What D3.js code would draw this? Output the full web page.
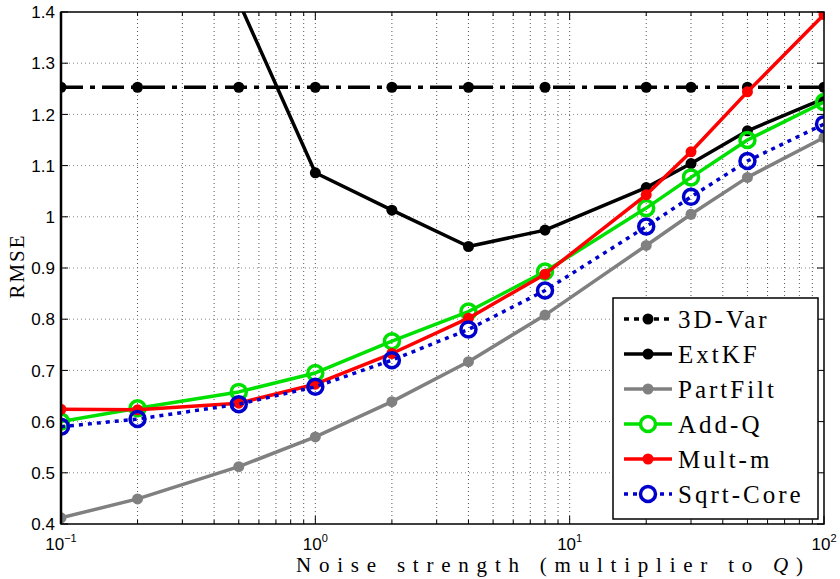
<!DOCTYPE html>
<html>
<head>
<meta charset="utf-8">
<script src="https://cdn.jsdelivr.net/npm/d3@7"></script>
<style>
  body { margin: 0; background: #fff; }
  svg { display: block; }
</style>
</head>
<body>
<script>
const width = 840;
const height = 579;
const margin = { top: 12, right: 16, bottom: 55, left: 61 };

// data
const noise = [0.1, 0.2, 0.5, 1, 2, 4, 8, 20, 30, 50, 100];
const var3d = [1.253, 1.253, 1.253, 1.253, 1.253, 1.253, 1.253, 1.253, 1.253, 1.253, 1.253];
const extkfNoise = [0.5, 1, 2, 4, 8, 20, 30, 50, 100];
const extkf = [1.42, 1.086, 1.013, 0.942, 0.974, 1.057, 1.104, 1.168, 1.231];
const partfilt = [0.412, 0.449, 0.512, 0.570, 0.639, 0.717, 0.808, 0.944, 1.005, 1.077, 1.155];
const addq = [0.600, 0.626, 0.658, 0.695, 0.757, 0.815, 0.893, 1.017, 1.077, 1.150, 1.224];
const multm = [0.624, 0.623, 0.636, 0.673, 0.733, 0.802, 0.888, 1.043, 1.127, 1.244, 1.395];
const sqrtcore = [0.590, 0.605, 0.634, 0.668, 0.720, 0.780, 0.856, 0.981, 1.039, 1.109, 1.181];

const yTicks = [0.4, 0.5, 0.6, 0.7, 0.8, 0.9, 1, 1.1, 1.2, 1.3, 1.4];
const xTickExps = [-1, 0, 1, 2];

const serif = "'Liberation Serif', 'DejaVu Serif', serif";
const sans = "'Liberation Sans', Arial, sans-serif";

const series = [
    { name: "3D-Var", xs: noise, ys: var3d, color: "#000", dash: "22,7,5,7", open: false },
    { name: "ExtKF", xs: extkfNoise, ys: extkf, color: "#000", dash: null, open: false },
    { name: "PartFilt", xs: noise, ys: partfilt, color: "#808080", dash: null, open: false },
    { name: "Add-Q", xs: noise, ys: addq, color: "#00e000", dash: null, open: true },
    { name: "Mult-m", xs: noise, ys: multm, color: "#ff0000", dash: null, open: false },
    { name: "Sqrt-Core", xs: noise, ys: sqrtcore, color: "#0000cc", dash: "4,5", open: true }
];

let svg = d3.select("body")
    .append("svg")
    .attr("width", width)
    .attr("height", height);

let xScale = d3.scaleLog()
    .domain([0.1, 100])
    .range([margin.left, width - margin.right]);

let yScale = d3.scaleLinear()
    .domain([0.4, 1.4])
    .range([height - margin.bottom, margin.top]);

let x0 = margin.left, x1 = width - margin.right;
let y0 = height - margin.bottom, y1 = margin.top;

// grid
let minorX = [];
for (let e = -1; e < 2; e++) {
    for (let m = 1; m < 10; m++) minorX.push(m * Math.pow(10, e));
}
minorX.push(100);

let grid = svg.append("g").attr("id", "grid");
grid.selectAll("line.vx")
    .data(minorX.filter(d => d > 0.1 && d < 100))
    .join("line")
    .attr("x1", d => xScale(d)).attr("x2", d => xScale(d))
    .attr("y1", y0).attr("y2", y1)
    .attr("stroke", "#555")
    .attr("stroke-width", 1)
    .attr("stroke-dasharray", "1,3");

grid.selectAll("line.hy")
    .data(yTicks.filter(d => d > 0.4 && d < 1.4))
    .join("line")
    .attr("x1", x0).attr("x2", x1)
    .attr("y1", d => yScale(d)).attr("y2", d => yScale(d))
    .attr("stroke", "#888")
    .attr("stroke-width", 1)
    .attr("stroke-dasharray", "1,3");

// box ticks (inward)
let ticks = svg.append("g").attr("id", "ticks").attr("stroke", "#000").attr("stroke-width", 1);
minorX.forEach(d => {
    let major = Math.abs(Math.log10(d) - Math.round(Math.log10(d))) < 1e-9;
    let len = major ? 8 : 4;
    ticks.append("line").attr("x1", xScale(d)).attr("x2", xScale(d)).attr("y1", y0).attr("y2", y0 - len);
    ticks.append("line").attr("x1", xScale(d)).attr("x2", xScale(d)).attr("y1", y1).attr("y2", y1 + len);
});
yTicks.forEach(d => {
    ticks.append("line").attr("x1", x0).attr("x2", x0 + 7).attr("y1", yScale(d)).attr("y2", yScale(d));
    ticks.append("line").attr("x1", x1).attr("x2", x1 - 7).attr("y1", yScale(d)).attr("y2", yScale(d));
});

// clip for lines
svg.append("clipPath").attr("id", "plotclip")
    .append("rect")
    .attr("x", x0).attr("y", y1)
    .attr("width", x1 - x0).attr("height", y0 - y1);

let line = d3.line()
    .x(d => xScale(d[0]))
    .y(d => yScale(d[1]));

let plot = svg.append("g").attr("clip-path", "url(#plotclip)");

series.forEach(s => {
    let pts = s.xs.map((x, i) => [x, s.ys[i]]);
    let g = plot.append("g");
    g.append("path")
        .datum(pts)
        .attr("d", line)
        .attr("fill", "none")
        .attr("stroke", s.color)
        .attr("stroke-width", 3.5)
        .attr("stroke-linejoin", "round")
        .attr("stroke-dasharray", s.dash);

    g.selectAll("circle")
        .data(pts.filter(d => d[1] <= 1.4))
        .join("circle")
        .attr("cx", d => xScale(d[0]))
        .attr("cy", d => yScale(d[1]))
        .attr("r", s.open ? 7.5 : 5.5)
        .attr("fill", s.open ? "none" : s.color)
        .attr("stroke", s.open ? s.color : "none")
        .attr("stroke-width", 3.5);
});

// axes box
svg.append("rect")
    .attr("x", x0).attr("y", y1)
    .attr("width", x1 - x0).attr("height", y0 - y1)
    .attr("fill", "none")
    .attr("stroke", "#000")
    .attr("stroke-width", 1.5);
svg.append("line")
    .attr("x1", x0).attr("x2", x0)
    .attr("y1", y1).attr("y2", y0)
    .attr("stroke", "#000")
    .attr("stroke-width", 2.5);

// tick labels
svg.append("g")
    .selectAll("text")
    .data(yTicks)
    .join("text")
    .attr("x", x0 - 6)
    .attr("y", d => yScale(d))
    .attr("dy", "0.36em")
    .attr("text-anchor", "end")
    .attr("font-family", sans)
    .attr("font-size", 17)
    .text(d => d3.format("~g")(d));

let xl = svg.append("g")
    .selectAll("text")
    .data(xTickExps)
    .join("text")
    .attr("x", d => xScale(Math.pow(10, d)))
    .attr("y", y0 + 26)
    .attr("text-anchor", "middle")
    .attr("font-family", sans)
    .attr("font-size", 17);
xl.append("tspan").text("10");
xl.append("tspan")
    .attr("dy", -8)
    .attr("font-size", 11)
    .text(d => d < 0 ? "\u2212" + Math.abs(d) : d);

// axis titles
let xt = svg.append("text")
    .attr("x", 296)
    .attr("y", 572)
    .attr("font-family", serif)
    .attr("font-size", 21)
    .attr("textLength", 507)
    .attr("lengthAdjust", "spacing");
xt.append("tspan").text("Noise strength (multiplier to ");
xt.append("tspan").attr("font-style", "italic").text("Q");
xt.append("tspan").text(")");

svg.append("text")
    .attr("transform", `translate(24, 266) rotate(-90)`)
    .attr("text-anchor", "middle")
    .attr("font-family", serif)
    .attr("font-size", 21)
    .attr("letter-spacing", 2)
    .text("RMSE");

// legend
let legend = svg.append("g").attr("id", "legend");
legend.append("rect")
    .attr("x", 613).attr("y", 298)
    .attr("width", 205).attr("height", 221)
    .attr("fill", "#fff")
    .attr("stroke", "#000")
    .attr("stroke-width", 1.5);

let rowY = d3.scaleLinear().domain([0, 5]).range([319, 494]);
series.forEach((s, i) => {
    let y = rowY(i);
    legend.append("line")
        .attr("x1", 624).attr("x2", 672)
        .attr("y1", y).attr("y2", y)
        .attr("stroke", s.color)
        .attr("stroke-width", 3.5)
        .attr("stroke-dasharray", s.dash === "4,5" ? "4,5" : (s.dash ? "5,5" : null));
    legend.append("circle")
        .attr("cx", 648).attr("cy", y)
        .attr("r", s.open ? 7.5 : 5.5)
        .attr("fill", s.open ? "#fff" : s.color)
        .attr("stroke", s.open ? s.color : "none")
        .attr("stroke-width", 3.5);
    legend.append("text")
        .attr("x", 678)
        .attr("y", y)
        .attr("dy", "0.34em")
        .attr("font-family", serif)
        .attr("font-size", 25)
        .attr("letter-spacing", 3)
        .text(s.name);
});
</script>
</body>
</html>
